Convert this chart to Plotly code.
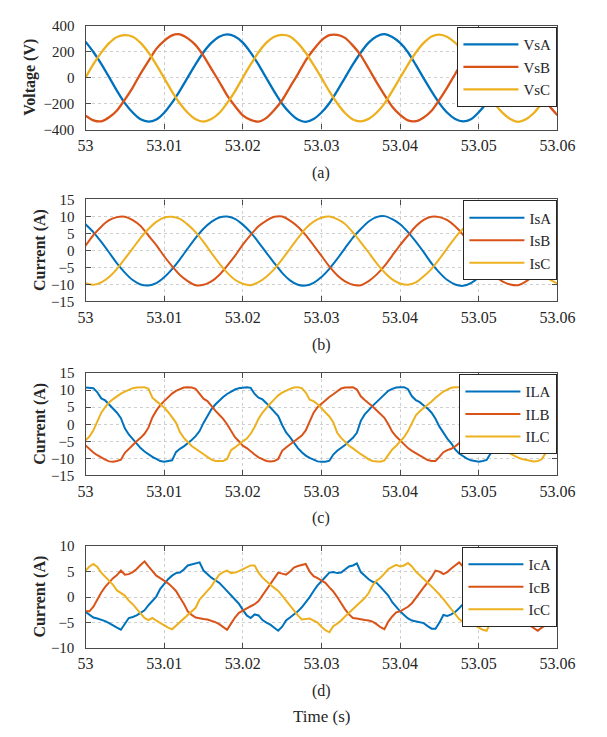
import plotly.graph_objects as go

W, H = 607, 737

# ---------------- data ----------------
time_1ms = [round(53 + i * 0.001, 4) for i in range(61)]
time_05ms = [round(53 + i * 0.0005, 5) for i in range(121)]

VsA = [280, 200, 108, 5, -100, -195, -268, -320, -338, -322, -270, -192, -98, 4, 106, 198, 270, 318, 336, 320,
       272, 195, 102, -3, -106, -200, -272, -322, -340, -318, -268, -196, -100, 2, 104, 196, 272, 320, 338, 316,
       270, 198, 100, -4, -104, -197, -270, -318, -336, -320, -266, -192, -102, 0, 102, 200, 268, 316, 334, 322, 274]
VsB = [-292, -328, -336, -305, -252, -168, -75, 33, 130, 224, 286, 328, 336, 305, 253, 170, 70, -30, -135, -218,
       -290, -325, -338, -309, -248, -173, -71, 29, 136, 219, 290, 330, 332, 309, 249, 174, 72, -33, -131, -223,
       -286, -329, -335, -306, -254, -169, -74, 30, 134, 222, 287, 326, 337, 304, 250, 172, 75, -28, -132, -220, -289]
VsC = [2, 106, 195, 268, 316, 330, 318, 270, 196, 102, -2, -106, -198, -270, -320, -338, -318, -272, -195, -104,
       3, 104, 198, 272, 318, 332, 320, 268, 194, 100, 0, -105, -196, -272, -322, -336, -317, -270, -199, -102,
       1, 103, 196, 270, 320, 334, 316, 271, 197, 105, -2, -103, -197, -269, -318, -340, -320, -272, -196, -106, 0]

IsA = [7.7, 5.4, 2.5, -0.6, -3.8, -6.5, -8.7, -10.0, -10.3, -9.6, -7.9, -5.5, -2.6, 0.6, 3.7, 6.4, 8.4, 9.7, 10.0, 9.3,
       7.6, 5.3, 2.4, -0.7, -3.7, -6.6, -8.8, -10.1, -10.3, -9.5, -7.8, -5.4, -2.5, 0.7, 3.8, 6.3, 8.5, 9.8, 10.1, 9.2,
       7.7, 5.4, 2.6, -0.5, -3.8, -6.5, -8.7, -10.0, -10.4, -9.6, -7.9, -5.6, -2.7, 0.5, 3.6, 6.4, 8.4, 9.7, 9.9, 9.3, 7.8]
IsB = [1.4, 4.5, 7.0, 8.9, 9.8, 9.9, 8.9, 7.2, 4.4, 1.6, -1.7, -4.6, -7.2, -9.0, -10.2, -10.1, -9.1, -7.2, -4.5, -1.6,
       1.7, 4.6, 7.1, 8.8, 9.9, 10.0, 8.8, 7.0, 4.5, 1.5, -1.6, -4.7, -7.3, -9.1, -10.1, -10.2, -9.0, -7.1, -4.6, -1.5,
       1.6, 4.4, 7.1, 9.0, 9.9, 9.8, 8.9, 7.1, 4.6, 1.7, -1.6, -4.5, -7.2, -9.1, -10.0, -10.2, -9.1, -7.2, -4.5, -1.7, 1.5]
IsC = [-9.6, -10.1, -9.4, -7.8, -5.4, -2.4, 0.6, 3.7, 6.3, 8.4, 9.7, 9.9, 9.3, 7.6, 5.4, 2.5, -0.7, -3.8, -6.5, -8.6,
       -9.8, -10.2, -9.3, -7.7, -5.5, -2.6, 0.5, 3.6, 6.5, 8.5, 9.6, 10.0, 9.2, 7.8, 5.3, 2.4, -0.6, -3.7, -6.4, -8.5,
       -9.7, -10.1, -9.4, -7.6, -5.4, -2.5, 0.7, 3.8, 6.4, 8.3, 9.7, 9.9, 9.4, 7.7, 5.5, 2.6, -0.5, -3.6, -6.5, -8.5, -9.7]

ILA = [10.8, 10.8, 10.6, 9.4, 7.6, 7.0, 5.8, 4.7, 3.4, 1.8, -1.2, -3.0, -4.3, -5.8, -7.0, -8.0, -8.9, -9.6, -10.2, -10.8,
       -11.0, -10.9, -10.6, -8.2, -7.2, -6.5, -5.6, -4.6, -3.5, -2.0, 0.4, 2.6, 4.4, 5.8, 7.0, 8.0, 8.9, 9.6, 10.2, 10.6,
       10.8, 10.9, 10.7, 8.9, 7.8, 7.3, 6.2, 5.0, 3.8, 2.4, -0.2, -2.4, -3.8, -5.5, -7.0, -8.2, -9.2, -9.9, -10.5, -10.9,
       -11.0, -11.0, -10.7, -8.9, -7.8, -7.0, -6.1, -5.0, -4.0, -2.5, 1.0, 2.9, 4.3, 5.4, 6.5, 7.6, 8.8, 9.8, 10.4, 10.8,
       10.9, 10.9, 10.3, 8.2, 7.1, 6.5, 5.5, 4.6, 3.4, 1.6, -0.7, -2.6, -4.2, -5.6, -7.4, -8.6, -9.4, -10.1, -10.6, -10.9,
       -11.0, -10.8, -10.5, -8.6, -7.0, -6.4, -5.5, -4.5, -3.4, -1.8, 0.6, 2.7, 4.5, 5.9, 7.1, 8.1, 9.0, 9.7, 10.3, 10.6, 10.8]
ILB = [-6.2, -7.3, -8.3, -9.1, -9.8, -10.4, -10.9, -11.0, -10.8, -10.4, -8.4, -7.2, -6.0, -5.0, -4.0, -2.8, -1.0, 2.0, 4.0, 5.6,
       6.8, 8.0, 9.0, 9.8, 10.4, 10.8, 10.9, 10.8, 10.4, 8.8, 7.5, 6.8, 5.3, 4.0, 2.8, 1.6, 0.0, -2.0, -3.8, -5.0,
       -6.3, -7.0, -8.0, -8.9, -9.7, -10.3, -10.8, -10.9, -10.8, -10.2, -7.8, -6.8, -5.9, -5.1, -4.2, -3.3, -1.8, 1.0, 3.4, 5.0,
       6.1, 7.1, 8.0, 8.8, 9.7, 10.5, 10.8, 10.9, 10.9, 10.2, 8.2, 7.1, 6.2, 5.2, 4.1, 3.0, 1.9, 0.0, -2.2, -3.6,
       -4.8, -6.1, -7.0, -7.8, -8.5, -9.3, -10.0, -10.5, -10.8, -10.8, -9.6, -8.2, -7.6, -7.2, -6.5, -5.6, -4.4, -2.6, 0.6, 3.2,
       5.0, 6.3, 7.5, 8.5, 9.4, 10.2, 10.7, 10.9, 10.8, 9.6, 7.8, 7.0, 5.8, 4.6, 3.4, 2.2, 0.8, -1.4, -3.2, -4.6, -5.6]
ILC = [-4.7, -3.6, -1.8, 1.0, 3.4, 5.0, 6.4, 7.4, 8.3, 9.0, 9.6, 10.2, 10.6, 10.8, 10.9, 10.9, 10.4, 7.8, 6.8, 5.9,
       4.9, 3.6, 2.2, 0.5, -2.3, -4.0, -5.2, -6.4, -7.2, -8.0, -8.9, -9.8, -10.4, -10.8, -10.9, -10.8, -10.2, -7.6, -6.8, -5.8,
       -5.0, -4.2, -2.8, -0.8, 1.6, 3.4, 4.9, 6.1, 7.3, 8.5, 9.3, 9.9, 10.4, 10.8, 10.9, 10.6, 9.3, 7.2, 6.8, 5.9,
       4.8, 3.5, 2.3, 0.6, -2.5, -4.0, -5.2, -6.3, -7.1, -8.0, -8.8, -9.5, -10.3, -10.8, -10.9, -11.0, -10.6, -8.8, -7.4, -6.3,
       -5.0, -3.8, -2.0, 0.5, 2.6, 3.8, 4.7, 5.7, 6.7, 7.8, 8.8, 9.6, 10.2, 10.7, 10.9, 10.9, 10.3, 7.8, 6.9, 5.9,
       4.9, 3.6, 2.2, 0.4, -2.4, -4.4, -6.2, -7.8, -8.6, -9.3, -9.8, -10.2, -10.5, -10.8, -10.9, -10.8, -10.3, -8.5, -7.4, -6.4, -5.4]

IcA = [-2.9, -3.5, -4.0, -4.2, -4.4, -4.7, -5.1, -5.6, -6.0, -6.4, -5.2, -4.1, -3.9, -3.6, -3.1, -2.6, -1.6, -0.8, 0.1, 1.6,
       2.6, 3.5, 4.2, 4.7, 4.8, 5.4, 6.2, 6.4, 6.6, 6.8, 5.2, 4.5, 3.8, 3.3, 2.8, 2.0, 1.2, 0.3, -0.5, -1.3,
       -2.5, -3.6, -4.1, -3.4, -3.6, -4.5, -5.0, -5.4, -6.0, -6.6, -5.8, -4.6, -4.0, -3.4, -2.8, -2.0, -1.1, 0.0, 1.2, 2.3,
       3.1, 4.0, 4.8, 4.9, 4.7, 4.8, 5.5, 6.0, 6.2, 6.6, 4.9, 4.2, 3.5, 3.0, 2.8, 2.0, 1.1, 0.3, -1.0, -2.0,
       -2.8, -3.5, -4.2, -4.6, -4.8, -4.9, -5.1, -5.7, -6.2, -6.2, -5.0, -3.5, -3.7, -3.4, -2.9, -2.2, -1.4, -0.3, 0.8, 1.9,
       2.9, 3.7, 4.4, 4.8, 4.9, 5.2, 5.8, 6.2, 6.5, 6.7, 5.0, 4.3, 3.6, 3.1, 2.7, 1.9, 1.0, 0.1, -0.8, -1.6, -2.3]
IcB = [-2.8, -2.8, -1.9, -0.4, 0.9, 2.0, 2.9, 3.7, 4.3, 5.2, 4.4, 4.5, 4.9, 5.5, 6.3, 7.0, 6.0, 5.0, 4.2, 3.7,
       3.2, 2.7, 2.0, 1.2, -0.1, -1.3, -2.8, -3.5, -4.0, -4.2, -4.3, -4.4, -4.6, -4.9, -5.3, -5.9, -6.4, -5.2, -4.0, -3.1,
       -2.6, -2.2, -1.8, -1.4, -0.8, 0.3, 1.4, 2.5, 3.5, 4.8, 4.6, 4.4, 5.0, 5.8, 6.1, 6.3, 6.5, 5.0, 4.1, 3.7,
       3.2, 2.8, 1.9, 1.1, 0.0, -1.3, -2.4, -3.4, -4.1, -4.2, -4.4, -4.5, -4.6, -4.8, -5.3, -5.9, -6.3, -4.8, -3.8, -3.0,
       -2.8, -2.4, -1.9, -1.2, -0.1, 0.9, 1.9, 2.9, 3.9, 5.2, 5.0, 4.5, 4.9, 5.6, 6.2, 6.8, 6.0, 5.0, 4.2, 3.6,
       3.1, 2.6, 1.9, 1.0, -0.2, -1.4, -2.7, -3.5, -4.0, -4.2, -4.4, -4.6, -5.0, -5.5, -6.0, -6.6, -6.0, -5.5, -4.8, -4.5, -4.3]
IcC = [5.2, 6.0, 6.5, 5.9, 4.8, 4.0, 3.2, 2.4, 1.3, 0.8, 0.3, -0.7, -1.4, -2.3, -3.3, -4.1, -4.5, -4.1, -4.6, -5.1,
       -5.6, -6.0, -6.3, -5.6, -4.9, -4.2, -3.4, -2.8, -2.1, -0.5, 0.4, 1.3, 2.1, 3.3, 4.4, 4.9, 5.2, 4.7, 4.8, 5.1,
       5.5, 5.9, 6.2, 6.2, 4.8, 3.8, 3.0, 2.4, 1.8, 1.2, 0.3, -0.7, -1.5, -2.6, -3.6, -4.4, -4.3, -4.2, -4.6, -5.0,
       -5.8, -6.5, -6.9, -5.7, -5.2, -4.6, -3.8, -3.1, -2.5, -1.7, -1.0, -0.2, 0.8, 2.3, 3.2, 3.8, 4.6, 5.5, 5.9, 6.3,
       6.0, 6.2, 6.7, 6.0, 5.0, 4.2, 3.5, 2.8, 2.1, 1.4, 0.5, -0.4, -1.4, -2.4, -3.4, -4.3, -4.9, -5.1, -5.2, -5.5,
       -6.0, -6.4, -6.6, -5.0, -4.6, -4.0, -3.3, -2.6, -1.9, -0.6, 0.4, 1.4, 2.3, 3.4, 4.3, 4.8, 5.1, 4.8, 5.0, 5.3, 5.5]

x_tickvals = [53, 53.01, 53.02, 53.03, 53.04, 53.05, 53.06]
x_ticktext = ["53", "53.01", "53.02", "53.03", "53.04", "53.05", "53.06"]

# ---------------- styling ----------------
COLORS = ["#0072BD", "#D95319", "#EDB120"]
FONT = "Liberation Serif, Times New Roman, Times, serif"
TXT = "#262626"
FRAME = "#4a4a4a"

X_LEFT, X_RIGHT = 81, 574

panels = [
    dict(t=time_1ms, names=["VsA", "VsB", "VsC"], ys=[VsA, VsB, VsC], yr=[-400, 400], dtick=200,
         ylabel="Voltage (V)", ylab_x=23, tag="(a)", top=18.5, bottom=124.3, shape="spline", lw=2.3),
    dict(t=time_1ms, names=["IsA", "IsB", "IsC"], ys=[IsA, IsB, IsC], yr=[-15, 15], dtick=5,
         ylabel="Current (A)", ylab_x=34, tag="(b)", top=195.7, bottom=300.0, shape="spline", lw=2.0),
    dict(t=time_05ms, names=["ILA", "ILB", "ILC"], ys=[ILA, ILB, ILC], yr=[-15, 15], dtick=5,
         ylabel="Current (A)", ylab_x=34, tag="(c)", top=373.3, bottom=477.7, shape="linear", lw=2.0),
    dict(t=time_05ms, names=["IcA", "IcB", "IcC"], ys=[IcA, IcB, IcC], yr=[-10, 10], dtick=5,
         ylabel="Current (A)", ylab_x=34, tag="(d)", top=550.0, bottom=654.3, shape="linear", lw=2.0),
]

fig = go.Figure()
annotations = []
layout = dict(
    width=W, height=H,
    margin=dict(l=0, r=0, t=0, b=0),
    paper_bgcolor="white", plot_bgcolor="white",
    font=dict(family=FONT, color=TXT, size=16),
    showlegend=True,
)

for i, p in enumerate(panels):
    k = "" if i == 0 else str(i + 1)
    xa, ya, lg = "x" + k, "y" + k, "legend" + k
    for name, y, c in zip(p["names"], p["ys"], COLORS):
        fig.add_trace(go.Scatter(
            x=p["t"], y=y, name=name, mode="lines",
            line=dict(color=c, width=p["lw"], shape=p["shape"], smoothing=0.6),
            xaxis=xa, yaxis=ya, legend=lg, hoverinfo="skip",
        ))
    y0 = 1 - p["bottom"] / H
    y1 = 1 - p["top"] / H
    layout["xaxis" + k] = dict(
        domain=[X_LEFT / W, X_RIGHT / W], anchor=ya, range=[53, 53.06],
        tickvals=x_tickvals, ticktext=x_ticktext,
        showline=True, mirror="ticks", linecolor=FRAME, linewidth=1.3,
        ticks="inside", ticklen=5, tickwidth=1.2, tickcolor=FRAME,
        showgrid=True, gridcolor="#cfcfcf", griddash="dot", gridwidth=1,
        zeroline=False, tickfont=dict(family=FONT, size=16, color=TXT),
        ticklabelstandoff=1,
    )
    layout["yaxis" + k] = dict(
        domain=[y0, y1], anchor=xa, range=p["yr"], dtick=p["dtick"], tick0=0,
        showline=True, mirror="ticks", linecolor=FRAME, linewidth=1.3,
        ticks="inside", ticklen=5, tickwidth=1.2, tickcolor=FRAME,
        showgrid=True, gridcolor="#cfcfcf", griddash="dot", gridwidth=1,
        zeroline=False, tickfont=dict(family=FONT, size=15, color=TXT),
        ticklabelstandoff=7,
    )
    layout[lg] = dict(
        x=X_RIGHT / W, xanchor="right", y=1 - (p["top"] + 1.0) / H, yanchor="top",
        bgcolor="white", bordercolor="#262626", borderwidth=1,
        font=dict(family=FONT, size=15, color=TXT), itemwidth=55,
        tracegroupgap=0,
    )
    annotations.append(dict(
        text=p["ylabel"], textangle=-90, x=p["ylab_x"] / W, y=(y0 + y1) / 2,
        xref="paper", yref="paper", xanchor="center", yanchor="middle", showarrow=False,
        font=dict(family=FONT, size=16, color=TXT, weight="bold"),
    ))
    annotations.append(dict(
        text=p["tag"], x=(X_LEFT + X_RIGHT) / 2 / W, y=1 - (p["bottom"] + 44) / H,
        xref="paper", yref="paper", xanchor="center", yanchor="middle", showarrow=False,
        font=dict(family=FONT, size=16, color=TXT),
    ))

annotations.append(dict(
    text="Time (s)", x=(X_LEFT + X_RIGHT) / 2 / W, y=1 - 724 / H,
    xref="paper", yref="paper", xanchor="center", yanchor="middle", showarrow=False,
    font=dict(family=FONT, size=17, color=TXT),
))
layout["annotations"] = annotations
fig.update_layout(**layout)

fig.write_html("out.html")
